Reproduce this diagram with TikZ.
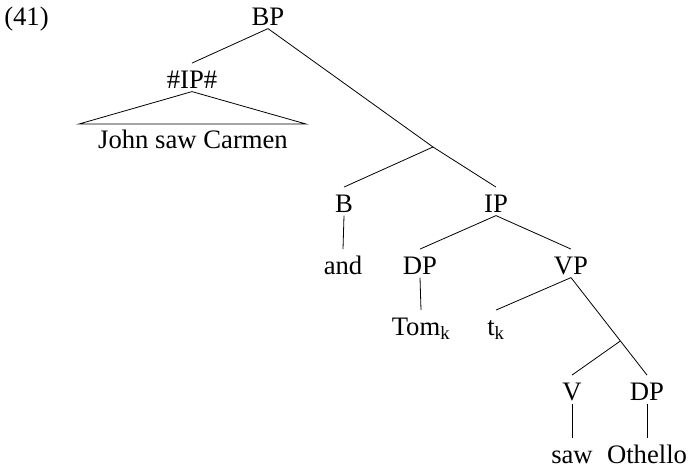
\documentclass[tikz,border=0pt]{standalone}
\usepackage{fontspec}
\setmainfont{Liberation Serif}
\usetikzlibrary{calc}
\begin{document}
\begin{tikzpicture}[x=0.75pt,y=-0.75pt,
  lab/.style={inner sep=0pt,anchor=base,text height=18.5pt,text depth=2.5pt,font=\fontsize{20}{24}\selectfont},
  edge/.style={draw=black,line width=0.6pt}]
\useasboundingbox (0,0) rectangle (689,469);
\node[lab,anchor=base west] (num) at (4,25) {(41)};
\node[lab] (BP) at (268,25) {BP};
\node[lab] (IPh) at (192,88) {\#IP\#};
\node[lab] (JSC) at (193,148) {John saw Carmen};
\coordinate (TL) at (79,124);
\coordinate (TR) at (306,124);
\coordinate (X1) at (433,147);
\node[lab] (B) at (344,212) {B};
\node[lab] (and) at (343,274) {and};
\node[lab] (IP) at (496,212) {IP};
\node[lab] (DP1) at (420,274) {DP};
\node[lab] (VP) at (571,274) {VP};
\node[lab] (Tom) at (421,335) {Tom\textsubscript{k}};
\node[lab] (t) at (496,335) {t\textsubscript{k}};
\node[lab] (V) at (572,400) {V};
\node[lab] (DP2) at (647,400) {DP};
\node[lab] (saw) at (572,463) {saw};
\node[lab] (Oth) at (647,463) {Othello};
\coordinate (X2) at ($(VP.south)!0.65!(DP2.north)$);
\draw[edge] (BP.south) -- (IPh.north);
\draw[edge] (TL) -- (IPh.south) -- (TR) -- cycle;
\draw[edge] (BP.south) -- (X1);
\draw[edge] (X1) -- (B.north);
\draw[edge] (X1) -- (IP.north);
\draw[edge] (B.south) -- (and.north);
\draw[edge] (IP.south) -- (DP1.north);
\draw[edge] (IP.south) -- (VP.north);
\draw[edge] (DP1.south) -- (Tom.north);
\draw[edge] (VP.south) -- (t.north);
\draw[edge] (VP.south) -- (X2) -- (DP2.north);
\draw[edge] (X2) -- (V.north);
\draw[edge] (V.south) -- (saw.north);
\draw[edge] (DP2.south) -- (Oth.north);
\end{tikzpicture}
\end{document}
